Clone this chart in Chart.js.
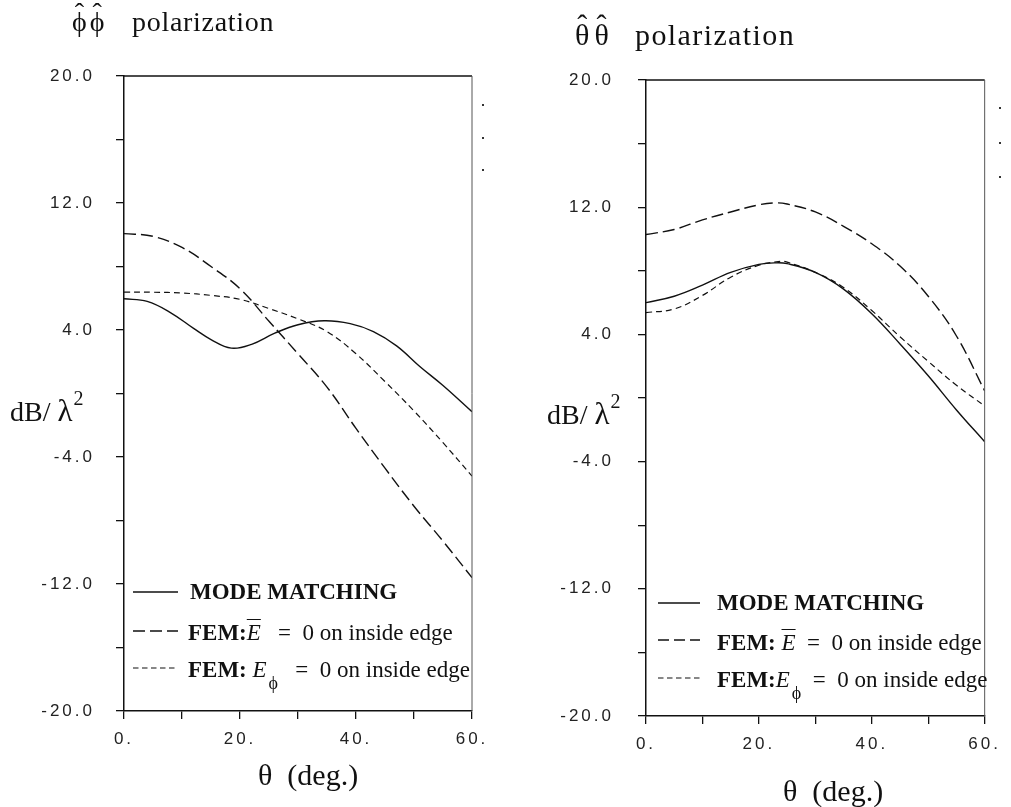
<!DOCTYPE html>
<html><head><meta charset="utf-8">
<script src="https://cdn.jsdelivr.net/npm/chart.js@4/dist/chart.umd.min.js"></script>
<style>
body{margin:0;background:#fff;width:1011px;height:807px;position:relative;overflow:hidden;font-family:"Liberation Serif","Times New Roman",serif;color:#111}
canvas{position:absolute;top:0}
.t{position:absolute;white-space:nowrap;line-height:1}
.b{font-weight:bold}
.i{font-style:italic}
.ov{text-decoration:overline;text-decoration-thickness:1px}
.sub{font-size:18px;position:relative;top:12px;margin-left:2px}
.hat{position:relative;display:inline-block}
.hat>span{position:absolute;left:0;right:0;text-align:center;top:-0.32em}
.dot{position:absolute;width:2px;height:2px;background:#333}
svg{position:absolute;overflow:visible}
</style></head><body>
<canvas id="c1" width="505" height="807" style="left:0"></canvas>
<canvas id="c2" width="506" height="807" style="left:505px"></canvas>

<!-- titles -->
<div class="t" style="left:72px;top:8px;font-size:28px"><span class="hat">ϕ<span>ˆ</span></span><span class="hat" style="margin-left:3px">ϕ<span>ˆ</span></span></div>
<div class="t" style="left:132px;top:8px;font-size:28px;letter-spacing:0.7px">polarization</div>
<div class="t" style="left:575px;top:20px;font-size:30px"><span class="hat">θ<span>ˆ</span></span><span class="hat" style="margin-left:5px">θ<span>ˆ</span></span></div>
<div class="t" style="left:635px;top:20px;font-size:30px;letter-spacing:1.4px">polarization</div>

<!-- y labels -->
<div class="t" style="left:10px;top:395px;font-size:28px">dB/ <span style="font-size:31px">λ</span><span style="font-size:20px;position:relative;top:-16px;margin-left:1px">2</span></div>
<div class="t" style="left:547px;top:398px;font-size:28px">dB/ <span style="font-size:31px">λ</span><span style="font-size:20px;position:relative;top:-16px;margin-left:1px">2</span></div>

<!-- x labels -->
<div class="t" style="left:258px;top:760px;font-size:30px">θ&nbsp;&nbsp;(deg.)</div>
<div class="t" style="left:783px;top:776px;font-size:30px">θ&nbsp;&nbsp;(deg.)</div>

<!-- stray marks beside the frames -->
<div class="dot" style="left:482px;top:104px"></div>
<div class="dot" style="left:482px;top:137px"></div>
<div class="dot" style="left:482px;top:169px"></div>
<div class="dot" style="left:999px;top:107px"></div>
<div class="dot" style="left:999px;top:142px"></div>
<div class="dot" style="left:999px;top:176px"></div>

<!-- legend samples -->
<svg style="left:0;top:0" width="1011" height="807">
  <line x1="133" y1="592" x2="178" y2="592" stroke="#111" stroke-width="1.4"/>
  <line x1="133" y1="631" x2="178" y2="631" stroke="#111" stroke-width="1.4" stroke-dasharray="12 5"/>
  <line x1="133" y1="668" x2="178" y2="668" stroke="#111" stroke-width="1.2" stroke-dasharray="5.5 3.5"/>
  <line x1="658" y1="603" x2="700" y2="603" stroke="#111" stroke-width="1.4"/>
  <line x1="658" y1="640" x2="700" y2="640" stroke="#111" stroke-width="1.4" stroke-dasharray="11 5"/>
  <line x1="658" y1="678" x2="700" y2="678" stroke="#111" stroke-width="1.2" stroke-dasharray="5.5 3.5"/>
</svg>
<div class="t b" style="left:190px;top:580px;font-size:23px">MODE MATCHING</div>
<div class="t" style="left:188px;top:621px;font-size:23px"><span class="b">FEM:</span><span class="i ov">E</span>&nbsp;&nbsp; =&nbsp; 0 on inside edge</div>
<div class="t" style="left:188px;top:658px;font-size:23px"><span class="b">FEM: </span><span class="i">E</span><span class="sub">ϕ</span>&nbsp;&nbsp; =&nbsp; 0 on inside edge</div>

<div class="t b" style="left:717px;top:591px;font-size:23px">MODE MATCHING</div>
<div class="t" style="left:717px;top:631px;font-size:23px"><span class="b">FEM: </span><span class="i ov">E</span>&nbsp; =&nbsp; 0 on inside edge</div>
<div class="t" style="left:717px;top:668px;font-size:23px"><span class="b">FEM:</span><span class="i">E</span><span class="sub">ϕ</span>&nbsp; =&nbsp; 0 on inside edge</div>

<script>
// ---- data ----
// left panel: phi-phi polarization
const phiModeX  = [0, 4, 8, 12, 15, 18.5, 22, 26, 30, 34.5, 39, 43, 47, 51, 55, 60];
const phiModeY  = [5.97, 5.8, 5.1, 4.1, 3.4, 2.86, 3.1, 3.8, 4.33, 4.58, 4.4, 3.9, 3.0, 1.7, 0.5, -1.15];
const phiFemEX  = [0, 5, 10, 15, 20, 25, 30, 35, 40, 45, 50, 55, 60];
const phiFemEY  = [10.07, 9.9, 9.2, 8.0, 6.6, 4.55, 2.5, 0.4, -2.2, -4.7, -7.1, -9.3, -11.6];
const phiFemPX  = [0, 5, 10, 15, 20, 25, 30, 35, 40, 45, 50, 55, 60];
const phiFemPY  = [6.39, 6.38, 6.33, 6.18, 5.93, 5.35, 4.7, 3.9, 2.5, 0.75, -1.1, -3.1, -5.2];
// right panel: theta-theta polarization
const thModeX   = [0, 5, 10, 15, 20, 23, 25, 30, 35, 40, 45, 50, 55, 60];
const thModeY   = [6.0, 6.4, 7.1, 7.9, 8.4, 8.5, 8.45, 7.9, 6.85, 5.3, 3.4, 1.4, -0.75, -2.75];
const thFemEX   = [0, 5, 10, 15, 20, 23, 25, 30, 35, 40, 45, 50, 55, 60];
const thFemEY   = [10.28, 10.6, 11.2, 11.7, 12.15, 12.27, 12.2, 11.7, 10.8, 9.7, 8.3, 6.4, 3.9, 0.45];
const thFemPX   = [0, 5, 10, 15, 20, 24, 25, 30, 35, 40, 45, 50, 55, 60];
const thFemPY   = [5.37, 5.6, 6.45, 7.6, 8.35, 8.6, 8.55, 7.9, 6.95, 5.5, 3.85, 2.3, 0.8, -0.5];
// axes
const xMin = 0, xMax = 60, xStep = 10, xLabelEvery = 20;
const yMin = -20, yMax = 20, yStep = 4, yLabelEvery = 8;

const LONG = [12, 5], SHORT = [6, 4];

const framePlugin = {
  id: 'frame',
  beforeLayout(chart){ chart.ctx.letterSpacing = '3px'; },
  beforeDraw(chart){ chart.ctx.letterSpacing = '3px'; },
  afterDraw(chart){
    const {ctx, chartArea:a} = chart;
    ctx.save();
    ctx.strokeStyle = '#111'; ctx.lineWidth = 1.5;
    ctx.beginPath(); ctx.moveTo(a.left, a.top); ctx.lineTo(a.right, a.top); ctx.stroke();
    ctx.strokeStyle = '#555'; ctx.lineWidth = 1;
    ctx.beginPath(); ctx.moveTo(a.right, a.top); ctx.lineTo(a.right, a.bottom); ctx.stroke();
    ctx.restore();
  }
};

function ds(xs, ys, dash){
  return {
    data: xs.map((x,i)=>({x, y: ys[i]})),
    borderColor:'#111', borderWidth: dash===SHORT?1.2:1.4, borderDash: dash||[],
    pointRadius:0, fill:false, tension:0.4
  };
}

function makeChart(id, sets, area, W, H, yPad){
  const tickFont = {family:'"Liberation Sans", Arial, sans-serif', size:17};
  return new Chart(document.getElementById(id), {
    type:'line',
    data:{datasets: sets},
    options:{
      responsive:false, animation:false,
      layout:{padding:{left:0, top:area.top, right: W - area.right, bottom:0}},
      plugins:{legend:{display:false}, tooltip:{enabled:false}, title:{display:false}},
      scales:{
        x:{
          type:'linear', min:xMin, max:xMax,
          ticks:{stepSize:xStep, autoSkip:false, maxRotation:0, padding:10, color:'#222', font:tickFont,
                 callback:v => (v % xLabelEvery === 0) ? (v + '.') : ''},
          grid:{drawOnChartArea:false, tickLength:8, color:'#111', lineWidth:1.3},
          border:{color:'#111', width:1.5},
          afterFit(s){ s.height = H - area.bottom; }
        },
        y:{
          type:'linear', min:yMin, max:yMax,
          ticks:{stepSize:yStep, autoSkip:false, padding:yPad, color:'#222', font:tickFont,
                 callback:v => (Math.abs(v % yLabelEvery) === yLabelEvery/2) ? v.toFixed(1) : ''},
          grid:{drawOnChartArea:false, tickLength:8, color:'#111', lineWidth:1.3},
          border:{color:'#111', width:1.5},
          afterFit(s){ s.width = area.left; }
        }
      }
    },
    plugins:[framePlugin]
  });
}

makeChart('c1', [
  ds(phiModeX, phiModeY, null),
  ds(phiFemEX, phiFemEY, LONG),
  ds(phiFemPX, phiFemPY, SHORT)
], {left:124, right:472, top:76, bottom:711}, 505, 807, 21);

makeChart('c2', [
  ds(thModeX, thModeY, null),
  ds(thFemEX, thFemEY, LONG),
  ds(thFemPX, thFemPY, SHORT)
], {left:141, right:486, top:80, bottom:716}, 506, 807, 24);
</script>
</body></html>
